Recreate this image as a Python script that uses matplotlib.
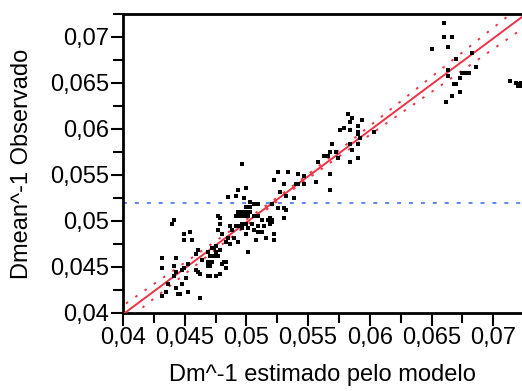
import matplotlib
matplotlib.use('Agg')
import matplotlib.pyplot as plt
import numpy as np
from matplotlib.ticker import MultipleLocator, FuncFormatter

plt.rcParams['font.family'] = ['Liberation Sans', 'DejaVu Sans']

x_pred = [
    0.06601, 0.06601, 0.06666, 0.06504, 0.06634, 0.06699, 0.06828, 0.06861, 0.06634, 0.06634,
    0.06747, 0.06780, 0.06804, 0.06731, 0.06682, 0.06699, 0.06666, 0.06731, 0.06618, 0.07136,
    0.07185, 0.07209, 0.07225, 0.07201, 0.07225,
    0.05823, 0.05856, 0.05840, 0.05937, 0.05759, 0.05791, 0.05840, 0.05904, 0.05904, 0.05904,
    0.05921, 0.06034, 0.05694, 0.05840, 0.05904, 0.05678, 0.05726, 0.05856, 0.05742, 0.05629,
    0.05580, 0.05840, 0.05904, 0.05678, 0.05564, 0.05678, 0.05256, 0.05337, 0.05418, 0.05467,
    0.05224, 0.05305, 0.05402, 0.05418, 0.05467, 0.05272, 0.05321, 0.05386, 0.05661,
    0.04964, 0.04997, 0.04932, 0.04916, 0.04851, 0.04981, 0.05029, 0.05062, 0.05094, 0.04997,
    0.05029, 0.04964, 0.04997, 0.05029, 0.04981, 0.05013, 0.05062, 0.05094, 0.05126, 0.05175,
    0.05207, 0.04964, 0.04997, 0.05045, 0.05094, 0.05143, 0.05191, 0.04964, 0.05013, 0.05062,
    0.05094, 0.04997, 0.05078, 0.05159, 0.05224, 0.05224, 0.05126, 0.05013, 0.05207, 0.05256,
    0.05305, 0.05321, 0.05305, 0.05191, 0.05207,
    0.04413, 0.04397, 0.04494, 0.04543, 0.04559, 0.04494, 0.04770, 0.04786, 0.04786, 0.04770,
    0.04802, 0.04867, 0.04916, 0.04932, 0.04948, 0.04916, 0.04948, 0.04883, 0.04851, 0.04835,
    0.04867, 0.04932, 0.04900, 0.04754, 0.04721, 0.04737, 0.04754, 0.04786, 0.04689, 0.04608,
    0.04592, 0.04640, 0.04705, 0.04737, 0.04770, 0.04689, 0.04721, 0.04819, 0.04835, 0.04802,
    0.04835, 0.04705, 0.04689, 0.04786, 0.04754, 0.04689, 0.04705, 0.04624, 0.04592, 0.04608,
    0.04527, 0.04494, 0.04478, 0.04511, 0.04430, 0.04413, 0.04430, 0.04316, 0.04316, 0.04413,
    0.04365, 0.04430, 0.04478, 0.04527, 0.04348, 0.04316, 0.04446, 0.04462, 0.04624,
]
y_obs = [
    0.07156, 0.07004, 0.07004, 0.06874, 0.06896, 0.06766, 0.06831, 0.06679, 0.06636, 0.06571,
    0.06614, 0.06614, 0.06614, 0.06549, 0.06484, 0.06484, 0.06354, 0.06397, 0.06289, 0.06527,
    0.06505, 0.06484, 0.06505, 0.06462, 0.06462,
    0.06158, 0.06115, 0.06072, 0.06093, 0.05985, 0.06007, 0.05985, 0.06028, 0.05963, 0.05941,
    0.05898, 0.05963, 0.05833, 0.05833, 0.05833, 0.05746, 0.05746, 0.05768, 0.05681, 0.05703,
    0.05638, 0.05638, 0.05681, 0.05508, 0.05421, 0.05334, 0.05529, 0.05529, 0.05508, 0.05486,
    0.05443, 0.05399, 0.05399, 0.05399, 0.05399, 0.05312, 0.05269, 0.05247, 0.05703,
    0.05616, 0.05356, 0.05334, 0.05269, 0.05258, 0.05247, 0.05204, 0.05182, 0.05182, 0.05150,
    0.05150, 0.05095, 0.05095, 0.05095, 0.05052, 0.05052, 0.05052, 0.05052, 0.05009, 0.05009,
    0.05009, 0.04965, 0.04965, 0.04965, 0.04944, 0.04944, 0.04965, 0.04922, 0.04922, 0.04900,
    0.04879, 0.04857, 0.04792, 0.04813, 0.04857, 0.04792, 0.04879, 0.04662, 0.05182, 0.05139,
    0.05139, 0.05117, 0.05030, 0.05030, 0.04987,
    0.05009, 0.04965, 0.04857, 0.04879, 0.04792, 0.04792, 0.05052, 0.05030, 0.04965, 0.04900,
    0.04857, 0.04944, 0.05052, 0.05095, 0.05052, 0.04944, 0.04944, 0.04900, 0.04813, 0.04770,
    0.04748, 0.04770, 0.04813, 0.04727, 0.04705, 0.04705, 0.04662, 0.04683, 0.04662, 0.04683,
    0.04640, 0.04575, 0.04618, 0.04618, 0.04618, 0.04553, 0.04553, 0.04553, 0.04553, 0.04531,
    0.04488, 0.04510, 0.04510, 0.04423, 0.04401, 0.04401, 0.04401, 0.04423, 0.04466, 0.04445,
    0.04531, 0.04488, 0.04466, 0.04380, 0.04597, 0.04510, 0.04445, 0.04597, 0.04488, 0.04401,
    0.04315, 0.04271, 0.04315, 0.04228, 0.04228, 0.04184, 0.04206, 0.04206, 0.04163,
]

# fit line and confidence curves
fit_slope = 1.0
fit_intercept = -0.00015
band_center = 0.0535
band_min = 0.0002
band_spread = 0.0688
y_mean = 0.0520

x_lim = (0.04, 0.07233)
y_lim = (0.04, 0.0725)


def comma_fmt(v, pos):
    s = ('%.3f' % v).rstrip('0')
    return s.replace('.', ',')


fig = plt.figure(figsize=(5.22, 3.91), dpi=100)
ax = fig.add_axes([0.2356, 0.1995, 0.7644, 0.7647])

xs = np.linspace(x_lim[0] - 0.002, x_lim[1] + 0.002, 200)
fit = fit_intercept + fit_slope * xs
half = np.sqrt(band_min ** 2 + (band_spread * (xs - band_center)) ** 2)
red = '#ee3344'
ax.plot(xs, fit, color=red, lw=1.4, zorder=3)
ax.plot(xs, fit + half, color=red, lw=1.4, ls=(0, (1.3, 4.5)), zorder=3)
ax.plot(xs, fit - half, color=red, lw=1.4, ls=(0, (1.3, 4.5)), zorder=3)
ax.axhline(y_mean, color='#3366ee', lw=1.1, ls=(0, (2.6, 5.2)), zorder=2)

ax.plot(x_pred, y_obs, 's', color='black', ms=3.4, mew=0, zorder=4)

ax.set_xlim(*x_lim)
ax.set_ylim(*y_lim)
for a in (ax.xaxis, ax.yaxis):
    a.set_major_locator(MultipleLocator(0.005))
    a.set_minor_locator(MultipleLocator(0.0025))
    a.set_major_formatter(FuncFormatter(comma_fmt))
ax.tick_params(which='both', direction='out', width=1.5, labelsize=17, pad=1,
               top=False, right=False)
ax.tick_params(which='major', length=9)
ax.tick_params(which='minor', length=7)
ax.spines['right'].set_visible(False)
for s in ('left', 'bottom', 'top'):
    ax.spines[s].set_linewidth(2)

ax.set_xlabel('Dm^-1 estimado pelo modelo', fontsize=17)
ax.set_ylabel('Dmean^-1 Observado', fontsize=17)
ax.xaxis.set_label_coords(0.5, -0.17)
ax.yaxis.set_label_coords(-0.2256, 0.5)

fig.savefig('out.png', dpi=100)
